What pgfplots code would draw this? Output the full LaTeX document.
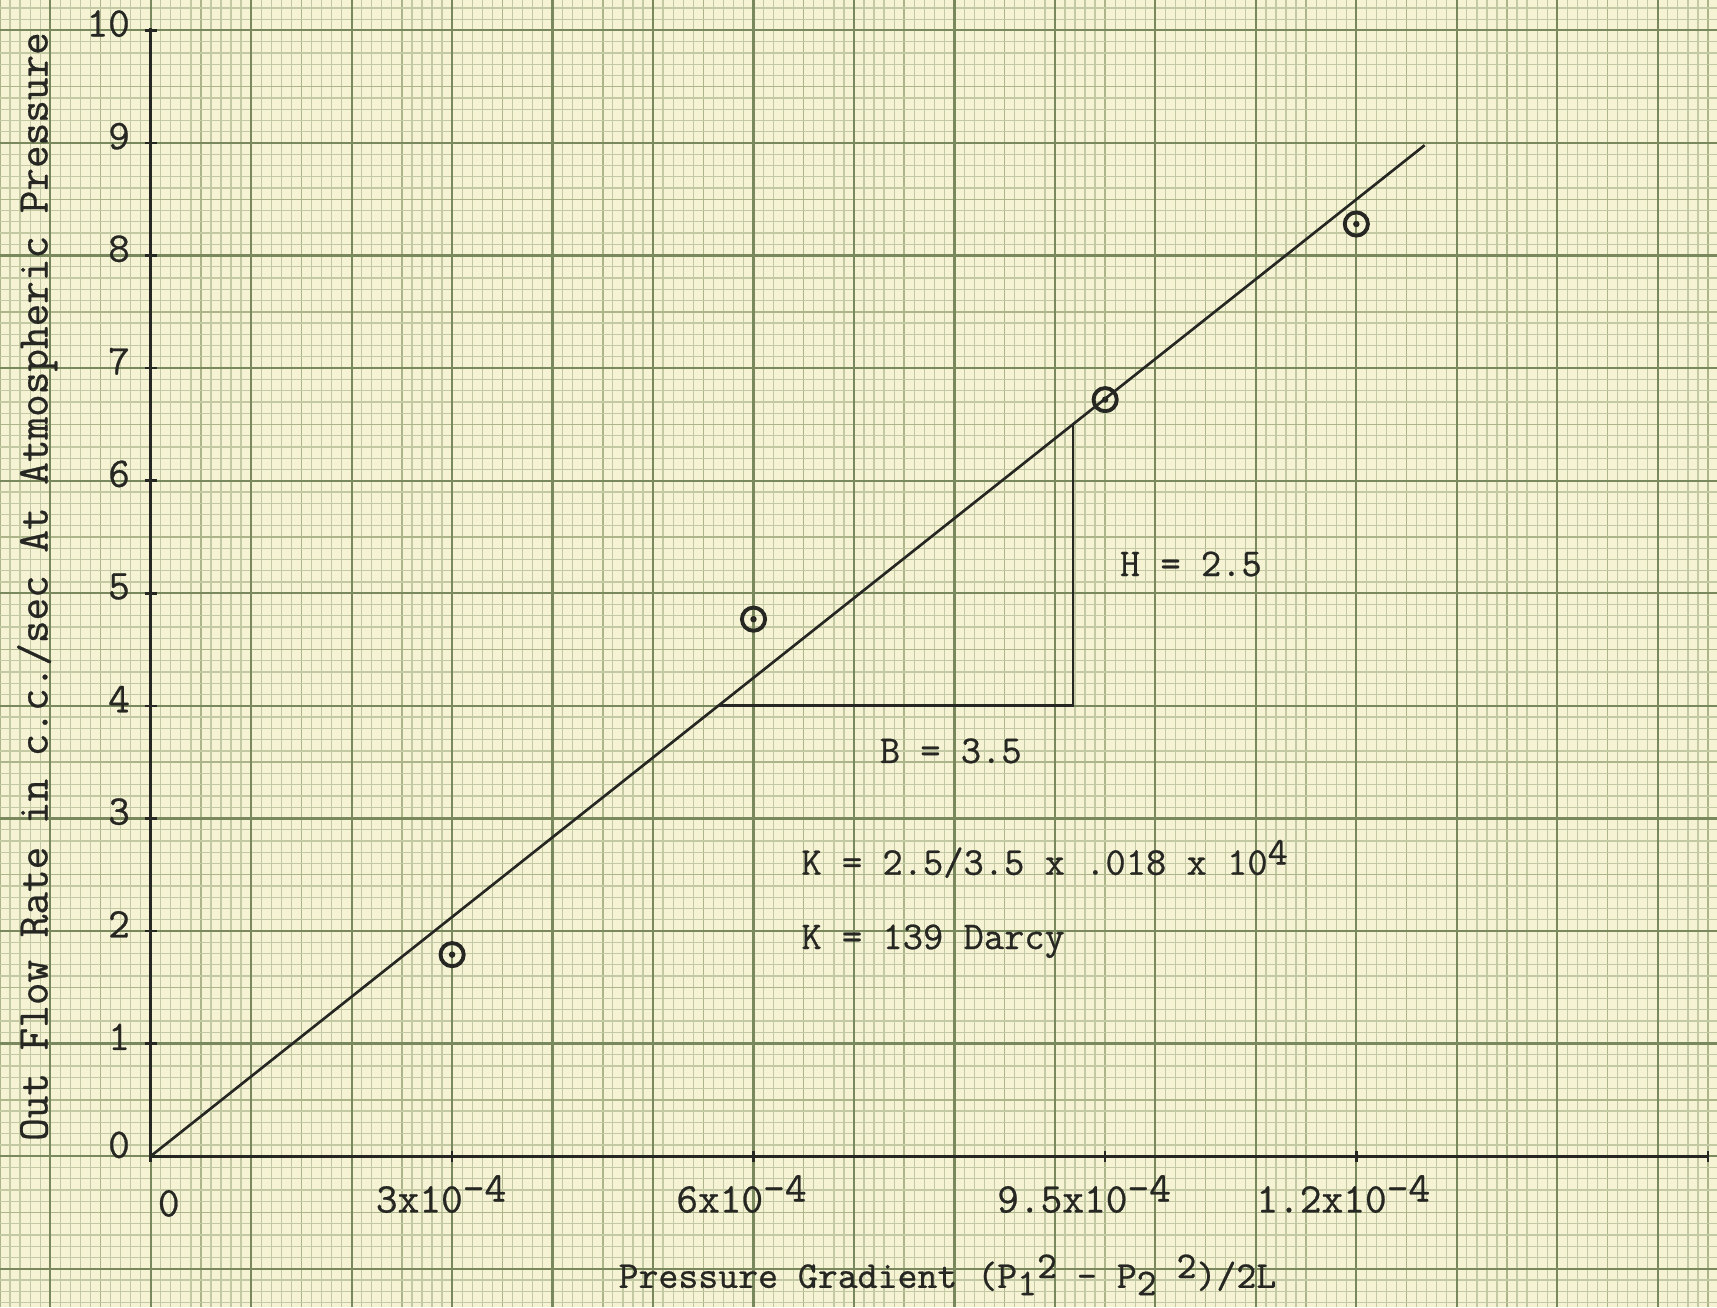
\documentclass[border=0pt]{standalone}
\usepackage{fontspec}
\setmonofont{Latin Modern Mono}[FakeBold=0.6]
\usepackage{pgfplots}
\pgfplotsset{compat=1.18}

\definecolor{paper}{RGB}{245,243,212}
\definecolor{finegrid}{RGB}{194,201,163}
\definecolor{medgrid}{RGB}{172,181,138}
\definecolor{heavygrid}{RGB}{122,136,94}
\definecolor{ink}{RGB}{38,38,34}

% typewriter-style half-line shifts
\newcommand{\up}[1]{\raisebox{0.6ex}{#1}}
\newcommand{\dn}[1]{\raisebox{-0.45ex}{#1}}

\begin{document}
\begin{tikzpicture}[every node/.style={text=ink, inner sep=0pt,
    font=\ttfamily\bfseries\fontsize{12}{14}\selectfont}]
\begin{axis}[
  scale only axis,
  width=171.7mm, height=130.7mm,
  xmin=-1.5, xmax=15.59, ymin=-1.34, ymax=10.27,
  axis background/.style={fill=paper},
  axis line style={draw=none},
  xtick={-1.5,-1,...,15.5}, ytick={-1.5,-1,...,10.5},
  minor tick num=4,
  grid=both,
  major grid style={line width=0.42pt, draw=medgrid},
  minor grid style={line width=0.36pt, draw=finegrid},
  extra x ticks={-1,0,...,15}, extra y ticks={-1,0,...,10},
  extra tick style={major grid style={line width=0.62pt, draw=heavygrid}},
  extra x tick labels={}, extra y tick labels={},
  xticklabels={}, yticklabels={},
  major tick length=0pt, minor tick length=0pt,
  clip=false,
]
% fitted line and slope triangle
\addplot[ink, line width=0.75pt] coordinates {(0,0) (12.68,8.98)};
\addplot[ink, line width=0.8pt] coordinates {(5.65,4) (9.18,4) (9.18,6.5)};

% measured points: ringed dots
\addplot[only marks, mark=o, mark size=3.3pt, mark options={draw=ink, line width=1.1pt}]
  coordinates {(3,1.79) (6,4.77) (9.5,6.72) (12,8.28)};
\addplot[only marks, mark=*, mark size=0.7pt, ink]
  coordinates {(3,1.79) (6,4.77) (9.5,6.72) (12,8.28)};

% hand-drawn axes with short tick marks
\draw[ink, line width=0.9pt] (axis cs:0,-0.05) -- (axis cs:0,10.02);
\draw[ink, line width=0.9pt] (axis cs:0,0) -- (axis cs:15.5,0);
\pgfplotsinvokeforeach{1,...,10}{
  \draw[ink, line width=0.7pt] (axis cs:-0.06,#1) -- (axis cs:0.06,#1);
  \node[anchor=east] at (axis cs:-0.2,#1+0.06) {#1};
}
\pgfplotsinvokeforeach{3,6,9.5,12,15.5}{
  \draw[ink, line width=0.7pt] (axis cs:#1,-0.05) -- (axis cs:#1,0.05);
}
\node[anchor=east] at (axis cs:-0.2,0.1) {0};
\node at (axis cs:0.18,-0.42) {0};
\node[anchor=base] at (axis cs:2.89,-0.5) {3x10\up{-4}};
\node[anchor=base] at (axis cs:5.88,-0.5) {6x10\up{-4}};
\node[anchor=base] at (axis cs:9.29,-0.5) {9.5x10\up{-4}};
\node[anchor=base] at (axis cs:11.87,-0.5) {1.2x10\up{-4}};

\node[anchor=base, font=\ttfamily\bfseries\fontsize{10.8}{13}\selectfont] at (axis cs:7.93,-1.17)
  {Pressure Gradient (P\dn{1}\up{2} - P\dn{2} \up{2})/2L};
\node[rotate=90, font=\ttfamily\bfseries\fontsize{12.5}{14}\selectfont] at (axis cs:-1.13,5.06)
  {Out Flow Rate in c.c./sec At Atmospheric Pressure};

\begin{scope}[every node/.append style={font=\ttfamily\bfseries\fontsize{11.2}{13}\selectfont}]
\node[anchor=west] at (axis cs:9.64,5.26) {H = 2.5};
\node[anchor=west] at (axis cs:7.25,3.6) {B = 3.5};
\node[anchor=base west] at (axis cs:6.47,2.5) {K = 2.5/3.5 x .018 x 10\up{4}};
\node[anchor=base west] at (axis cs:6.47,1.84) {K = 139 Darcy};
\end{scope}
\end{axis}
\pgfresetboundingbox
\useasboundingbox (current axis.south west) rectangle (current axis.north east);
\end{tikzpicture}
\end{document}
